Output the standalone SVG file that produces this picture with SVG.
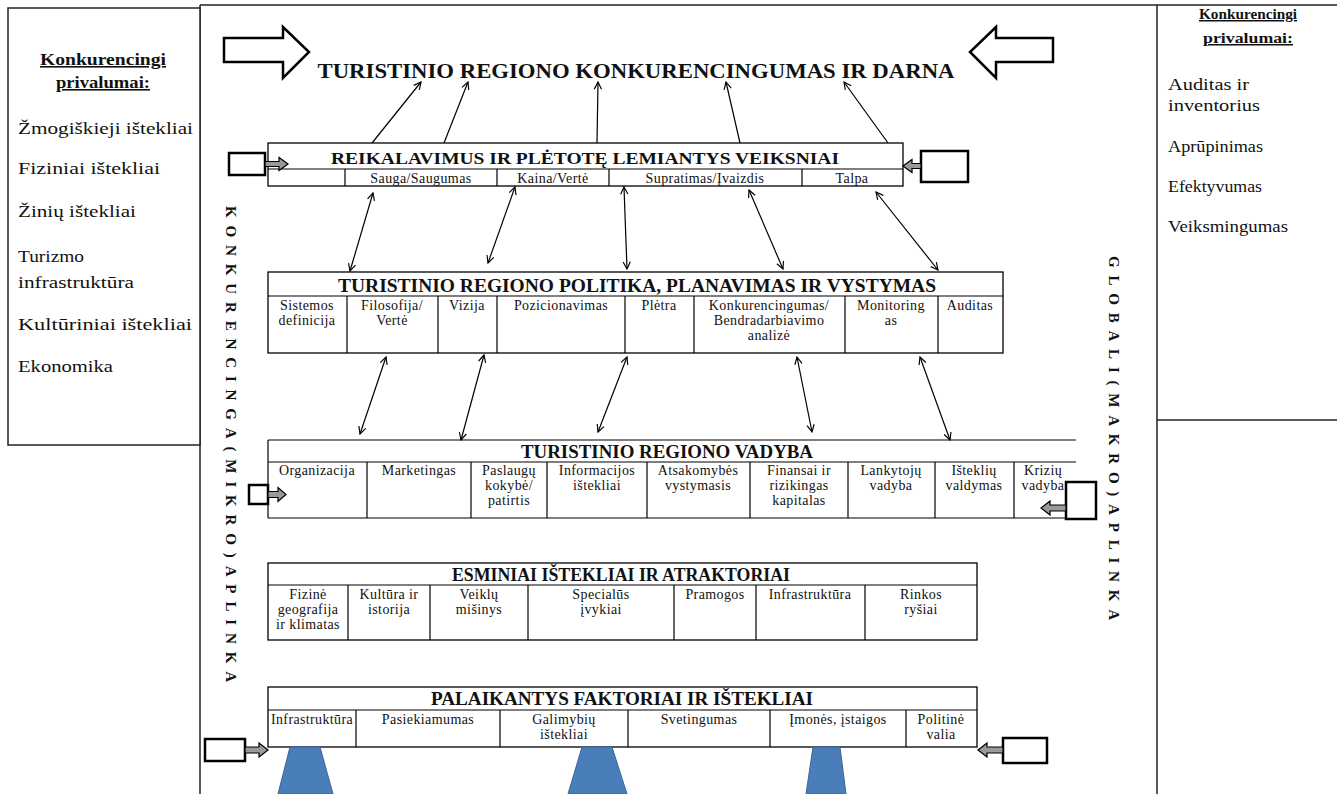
<svg xmlns="http://www.w3.org/2000/svg" width="1337" height="794" viewBox="0 0 1337 794">
<defs>
<marker id="ah" viewBox="0 0 10 10" refX="9" refY="5" markerWidth="9" markerHeight="9" markerUnits="userSpaceOnUse" orient="auto-start-reverse">
<path d="M1,1 L9,5 L1,9" fill="none" stroke="#000" stroke-width="1.3"/>
</marker>
<style>
.frame{fill:none;stroke:#222;stroke-width:1.5}
.box{fill:#fff;stroke:#000;stroke-width:1.3}
.ln{stroke:#000;stroke-width:1.2;fill:none}
.ttl{font-family:"Liberation Serif","Times New Roman",serif;font-weight:bold;font-size:18px;text-anchor:middle;fill:#111}
.cell{font-family:"Liberation Serif","Times New Roman",serif;font-size:14px;letter-spacing:0.4px;text-anchor:middle;fill:#111}
.side{font-family:"Liberation Serif","Times New Roman",serif;font-size:17px;fill:#111}
.sideR{font-family:"Liberation Serif","Times New Roman",serif;font-size:16px;fill:#111}
.head{font-family:"Liberation Serif","Times New Roman",serif;font-weight:bold;font-size:16px;text-anchor:middle;text-decoration:underline;fill:#111}
.vert{font-family:"Liberation Serif","Times New Roman",serif;font-weight:bold;font-size:15px;fill:#111}
.conn{stroke:#000;stroke-width:1.2;fill:none;marker-end:url(#ah)}
.dbl{stroke:#000;stroke-width:1.2;fill:none;marker-end:url(#ah);marker-start:url(#ah)}
.bigarr{fill:#fff;stroke:#000;stroke-width:2.5;stroke-linejoin:miter}
.crect{fill:#fff;stroke:#000;stroke-width:2.5}
.carr{fill:#999;stroke:#000;stroke-width:1.2}
.trap{fill:#4a7ebb;stroke:#3a6496;stroke-width:1}
</style>
</defs>

<!-- frame -->
<g id="frame">
<line class="frame" x1="200" y1="5" x2="1337" y2="5"/>
<line class="frame" x1="200" y1="5" x2="200" y2="794"/>
<line class="frame" x1="1157" y1="5" x2="1157" y2="794"/>
<line class="frame" x1="1157" y1="420" x2="1337" y2="420"/>
</g>

<!-- left panel -->
<g id="left-panel">
<rect x="8" y="8" width="192" height="437" fill="#fff" stroke="#222" stroke-width="1.5"/>
<text class="head" x="103" y="65" textLength="126" lengthAdjust="spacingAndGlyphs">Konkurencingi</text>
<text class="head" x="103" y="88" textLength="94" lengthAdjust="spacingAndGlyphs">privalumai:</text>
<text class="side" x="18" y="134" textLength="175" lengthAdjust="spacingAndGlyphs">Žmogiškieji ištekliai</text>
<text class="side" x="18" y="174" textLength="142" lengthAdjust="spacingAndGlyphs">Fiziniai ištekliai</text>
<text class="side" x="18" y="217" textLength="118" lengthAdjust="spacingAndGlyphs">Žinių ištekliai</text>
<text class="side" x="18" y="262" textLength="66" lengthAdjust="spacingAndGlyphs">Turizmo</text>
<text class="side" x="18" y="288" textLength="116" lengthAdjust="spacingAndGlyphs">infrastruktūra</text>
<text class="side" x="18" y="330" textLength="174" lengthAdjust="spacingAndGlyphs">Kultūriniai ištekliai</text>
<text class="side" x="18" y="372" textLength="95" lengthAdjust="spacingAndGlyphs">Ekonomika</text>
</g>

<!-- right panel -->
<g id="right-panel">
<text class="head" x="1248" y="19" style="font-size:15px" textLength="98" lengthAdjust="spacingAndGlyphs">Konkurencingi</text>
<text class="head" x="1248" y="43" style="font-size:15px" textLength="90" lengthAdjust="spacingAndGlyphs">privalumai:</text>
<text class="sideR" x="1168" y="90" textLength="81" lengthAdjust="spacingAndGlyphs">Auditas ir</text>
<text class="sideR" x="1168" y="111" textLength="92" lengthAdjust="spacingAndGlyphs">inventorius</text>
<text class="sideR" x="1168" y="152" textLength="95" lengthAdjust="spacingAndGlyphs">Aprūpinimas</text>
<text class="sideR" x="1168" y="192" textLength="94" lengthAdjust="spacingAndGlyphs">Efektyvumas</text>
<text class="sideR" x="1168" y="232" textLength="120" lengthAdjust="spacingAndGlyphs">Veiksmingumas</text>
</g>

<!-- vertical labels -->
<g id="mikro-label">
<text class="vert" transform="translate(226,206) rotate(90)" x="0" y="0" textLength="476" lengthAdjust="spacing">KONKURENCINGA(MIKRO)APLINKA</text>
</g>
<g id="makro-label">
<text class="vert" transform="translate(1109,256) rotate(90)" x="0" y="0" textLength="364" lengthAdjust="spacing">GLOBALI(MAKRO)APLINKA</text>
</g>

<!-- title -->
<g id="title">
<path class="bigarr" d="M224,38 H283 V27 L309,52 L283,78 V62 H224 Z"/>
<path class="bigarr" d="M1053,38 H996 V27 L970,52 L996,78 V62 H1053 Z"/>
<text class="ttl" x="636" y="78" style="font-size:21px" textLength="637" lengthAdjust="spacingAndGlyphs">TURISTINIO REGIONO KONKURENCINGUMAS IR DARNA</text>
</g>

<!-- connectors -->
<g id="connectors">
<line class="conn" x1="372" y1="143" x2="421" y2="82"/>
<line class="conn" x1="444" y1="143" x2="468" y2="82"/>
<line class="conn" x1="597" y1="143" x2="598" y2="82"/>
<line class="conn" x1="740" y1="143" x2="726" y2="82"/>
<line class="conn" x1="888" y1="143" x2="844" y2="82"/>

<line class="dbl" x1="373" y1="193" x2="350" y2="271"/>
<line class="dbl" x1="515" y1="187" x2="488" y2="263"/>
<line class="dbl" x1="624" y1="187" x2="627" y2="269"/>
<line class="dbl" x1="749" y1="190" x2="783" y2="269"/>
<line class="dbl" x1="876" y1="192" x2="938" y2="270"/>

<line class="dbl" x1="386" y1="357" x2="360" y2="434"/>
<line class="dbl" x1="484" y1="355" x2="461" y2="440"/>
<line class="dbl" x1="627" y1="357" x2="598" y2="432"/>
<line class="dbl" x1="797" y1="357" x2="812" y2="432"/>
<line class="dbl" x1="920" y1="357" x2="950" y2="440"/>
</g>

<!-- Reikalavimus -->
<g id="node-reikalavimus">
<rect class="box" x="268" y="143" width="635" height="43"/>
<line class="ln" x1="268" y1="169" x2="903" y2="169"/>
<line class="ln" x1="345" y1="169" x2="345" y2="186"/>
<line class="ln" x1="497" y1="169" x2="497" y2="186"/>
<line class="ln" x1="609" y1="169" x2="609" y2="186"/>
<line class="ln" x1="802" y1="169" x2="802" y2="186"/>
<text class="ttl" x="585" y="164" style="font-size:17px" textLength="508" lengthAdjust="spacingAndGlyphs">REIKALAVIMUS IR PLĖTOTĘ LEMIANTYS VEIKSNIAI</text>
<text class="cell" x="421" y="183">Sauga/Saugumas</text>
<text class="cell" x="553" y="183">Kaina/Vertė</text>
<text class="cell" x="705" y="183">Supratimas/Įvaizdis</text>
<text class="cell" x="852" y="183">Talpa</text>
<rect class="crect" x="229" y="153" width="36" height="22"/>
<path class="carr" d="M265,161.5 H279 V157.5 L288,164 L279,170.5 V166.5 H265 Z"/>
<rect class="crect" x="921" y="151" width="47" height="31"/>
<path class="carr" d="M921,163.5 H912 V159.5 L903,166 L912,172.5 V168.5 H921 Z"/>
</g>

<!-- Politika -->
<g id="node-politika">
<rect class="box" x="268" y="272" width="735" height="81"/>
<line class="ln" x1="268" y1="296" x2="1003" y2="296"/>
<line class="ln" x1="347" y1="296" x2="347" y2="353"/>
<line class="ln" x1="438" y1="296" x2="438" y2="353"/>
<line class="ln" x1="497" y1="296" x2="497" y2="353"/>
<line class="ln" x1="625" y1="296" x2="625" y2="353"/>
<line class="ln" x1="694" y1="296" x2="694" y2="353"/>
<line class="ln" x1="845" y1="296" x2="845" y2="353"/>
<line class="ln" x1="938" y1="296" x2="938" y2="353"/>
<text class="ttl" x="637" y="292" textLength="598" lengthAdjust="spacingAndGlyphs">TURISTINIO REGIONO POLITIKA, PLANAVIMAS IR VYSTYMAS</text>
<text class="cell" x="307" y="310">Sistemos</text>
<text class="cell" x="307" y="325">definicija</text>
<text class="cell" x="392" y="310">Filosofija/</text>
<text class="cell" x="392" y="325">Vertė</text>
<text class="cell" x="467" y="310">Vizija</text>
<text class="cell" x="561" y="310">Pozicionavimas</text>
<text class="cell" x="659" y="310">Plėtra</text>
<text class="cell" x="769" y="310">Konkurencingumas/</text>
<text class="cell" x="769" y="325">Bendradarbiavimo</text>
<text class="cell" x="769" y="340">analizė</text>
<text class="cell" x="891" y="310">Monitoring</text>
<text class="cell" x="891" y="325">as</text>
<text class="cell" x="970" y="310">Auditas</text>
</g>

<!-- Vadyba -->
<g id="node-vadyba">
<line class="ln" x1="268" y1="440" x2="1076" y2="440"/>
<line class="ln" x1="268" y1="462" x2="1076" y2="462"/>
<line class="ln" x1="268" y1="518" x2="1076" y2="518"/>
<line class="ln" x1="268" y1="440" x2="268" y2="518"/>
<line class="ln" x1="367" y1="462" x2="367" y2="518"/>
<line class="ln" x1="471" y1="462" x2="471" y2="518"/>
<line class="ln" x1="547" y1="462" x2="547" y2="518"/>
<line class="ln" x1="647" y1="462" x2="647" y2="518"/>
<line class="ln" x1="750" y1="462" x2="750" y2="518"/>
<line class="ln" x1="848" y1="462" x2="848" y2="518"/>
<line class="ln" x1="935" y1="462" x2="935" y2="518"/>
<line class="ln" x1="1014" y1="462" x2="1014" y2="518"/>
<text class="ttl" x="667" y="458" textLength="292" lengthAdjust="spacingAndGlyphs">TURISTINIO REGIONO VADYBA</text>
<text class="cell" x="317" y="475">Organizacija</text>
<text class="cell" x="419" y="475">Marketingas</text>
<text class="cell" x="509" y="475">Paslaugų</text>
<text class="cell" x="509" y="490">kokybė/</text>
<text class="cell" x="509" y="505">patirtis</text>
<text class="cell" x="597" y="475">Informacijos</text>
<text class="cell" x="597" y="490">ištekliai</text>
<text class="cell" x="698" y="475">Atsakomybės</text>
<text class="cell" x="698" y="490">vystymasis</text>
<text class="cell" x="799" y="475">Finansai ir</text>
<text class="cell" x="799" y="490">rizikingas</text>
<text class="cell" x="799" y="505">kapitalas</text>
<text class="cell" x="891" y="475">Lankytojų</text>
<text class="cell" x="891" y="490">vadyba</text>
<text class="cell" x="974" y="475">Išteklių</text>
<text class="cell" x="974" y="490">valdymas</text>
<text class="cell" x="1043" y="475">Krizių</text>
<text class="cell" x="1043" y="490">vadyba</text>
<rect class="crect" x="249" y="485" width="19" height="19"/>
<path class="carr" d="M268,491.5 H278 V487.5 L286,494.5 L278,501.5 V497.5 H268 Z"/>
<rect class="crect" x="1066" y="482" width="30" height="37"/>
<path class="carr" d="M1066,505 H1050 V501 L1041,508 L1050,515 V511 H1066 Z"/>
</g>

<!-- Esminiai -->
<g id="node-esminiai">
<rect class="box" x="268" y="563" width="709" height="77"/>
<line class="ln" x1="268" y1="585" x2="977" y2="585"/>
<line class="ln" x1="348" y1="585" x2="348" y2="640"/>
<line class="ln" x1="430" y1="585" x2="430" y2="640"/>
<line class="ln" x1="528" y1="585" x2="528" y2="640"/>
<line class="ln" x1="674" y1="585" x2="674" y2="640"/>
<line class="ln" x1="756" y1="585" x2="756" y2="640"/>
<line class="ln" x1="865" y1="585" x2="865" y2="640"/>
<text class="ttl" x="621" y="581" textLength="338" lengthAdjust="spacingAndGlyphs">ESMINIAI IŠTEKLIAI IR ATRAKTORIAI</text>
<text class="cell" x="308" y="599">Fizinė</text>
<text class="cell" x="308" y="614">geografija</text>
<text class="cell" x="308" y="629">ir klimatas</text>
<text class="cell" x="389" y="599">Kultūra ir</text>
<text class="cell" x="389" y="614">istorija</text>
<text class="cell" x="479" y="599">Veiklų</text>
<text class="cell" x="479" y="614">mišinys</text>
<text class="cell" x="601" y="599">Specialūs</text>
<text class="cell" x="601" y="614">įvykiai</text>
<text class="cell" x="715" y="599">Pramogos</text>
<text class="cell" x="810" y="599">Infrastruktūra</text>
<text class="cell" x="921" y="599">Rinkos</text>
<text class="cell" x="921" y="614">ryšiai</text>
</g>

<!-- Palaikantys -->
<g id="node-palaikantys">
<rect class="box" x="268" y="687" width="709" height="60"/>
<line class="ln" x1="268" y1="710" x2="977" y2="710"/>
<line class="ln" x1="356" y1="710" x2="356" y2="747"/>
<line class="ln" x1="500" y1="710" x2="500" y2="747"/>
<line class="ln" x1="628" y1="710" x2="628" y2="747"/>
<line class="ln" x1="770" y1="710" x2="770" y2="747"/>
<line class="ln" x1="906" y1="710" x2="906" y2="747"/>
<text class="ttl" x="622" y="705" textLength="382" lengthAdjust="spacingAndGlyphs">PALAIKANTYS FAKTORIAI IR IŠTEKLIAI</text>
<text class="cell" x="312" y="724" textLength="82" lengthAdjust="spacingAndGlyphs">Infrastruktūra</text>
<text class="cell" x="428" y="724">Pasiekiamumas</text>
<text class="cell" x="564" y="724">Galimybių</text>
<text class="cell" x="564" y="739">ištekliai</text>
<text class="cell" x="699" y="724">Svetingumas</text>
<text class="cell" x="838" y="724">Įmonės, įstaigos</text>
<text class="cell" x="941" y="724">Politinė</text>
<text class="cell" x="941" y="739">valia</text>
<rect class="crect" x="205" y="739" width="40" height="22"/>
<path class="carr" d="M245,747 H259 V743 L268,750 L259,757 V753 H245 Z"/>
<rect class="crect" x="1003" y="738" width="44" height="25"/>
<path class="carr" d="M1003,747 H987 V743 L978,750 L987,757 V753 H1003 Z"/>
</g>

<!-- supports -->
<g id="supports">
<polygon class="trap" points="290,747 320,747 333,794 278,794"/>
<polygon class="trap" points="582,747 612,747 627,794 568,794"/>
<polygon class="trap" points="813,747 840,747 846,794 806,794"/>
</g>
</svg>
